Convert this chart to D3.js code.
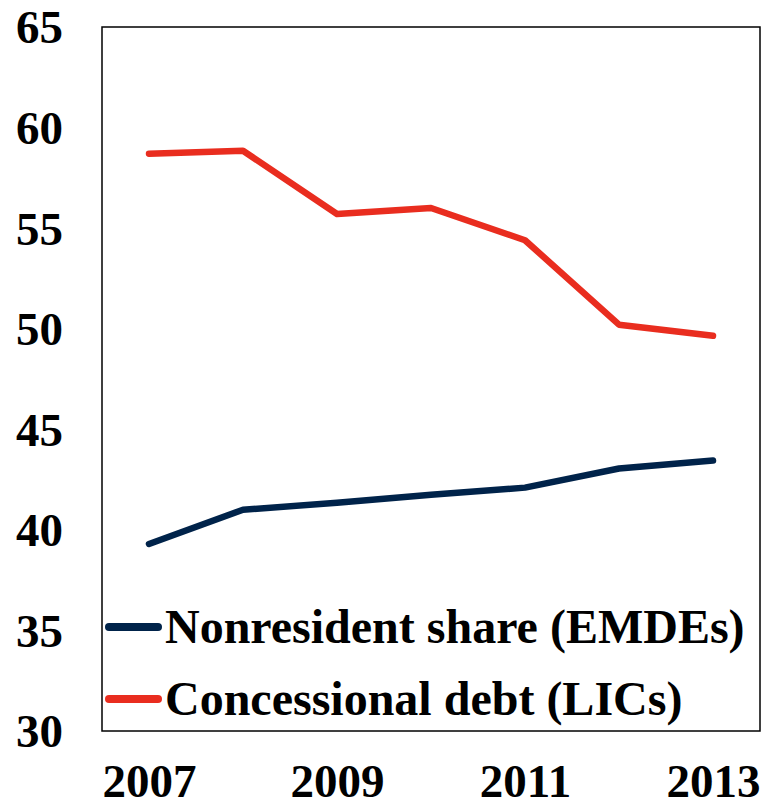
<!DOCTYPE html>
<html>
<head>
<meta charset="utf-8">
<script src="https://cdn.jsdelivr.net/npm/d3@7"></script>
<style>
  html, body { margin: 0; padding: 0; background: #fff; }
  svg { display: block; }
</style>
</head>
<body>
<div id="chart"></div>
<script>
// Daten
const years = ["2007", "2008", "2009", "2010", "2011", "2012", "2013"];
const nonresident = [39.3, 41.0, 41.35, 41.75, 42.1, 43.05, 43.45];
const concessional = [58.7, 58.85, 55.7, 56.0, 54.4, 50.2, 49.65];
const yTicks = [30, 35, 40, 45, 50, 55, 60, 65];
const xTickLabels = ["2007", "2009", "2011", "2013"];

const series = [
    { label: "Nonresident share (EMDEs)", values: nonresident, color: "#00234a" },
    { label: "Concessional debt (LICs)", values: concessional, color: "#e92d1f" },
];

const width = 763, height = 804;
const plot = { left: 102, right: 760, top: 27, bottom: 731 };
const font = "'Liberation Serif', 'Times New Roman', serif";

const svg = d3.select("#chart").append("svg")
    .attr("width", width)
    .attr("height", height);

const x = d3.scalePoint().domain(years).range([plot.left, plot.right]).padding(0.5);
const y = d3.scaleLinear().domain([30, 65]).range([plot.bottom, plot.top]);

// Rahmen
svg.append("rect")
    .attr("x", plot.left)
    .attr("y", plot.top)
    .attr("width", plot.right - plot.left)
    .attr("height", plot.bottom - plot.top)
    .attr("fill", "none")
    .attr("stroke", "#000")
    .attr("stroke-width", 1.5);

// Y-Achse
const yAxis = svg.append("g")
    .attr("transform", "translate(63,0)")
    .call(d3.axisLeft(y).tickValues(yTicks).tickSize(0).tickPadding(0));
yAxis.select(".domain").remove();
yAxis.selectAll("text")
    .attr("font-family", font)
    .attr("font-weight", "bold")
    .attr("font-size", 47)
    .attr("fill", "#000")
    .attr("dy", "0.34em");

// X-Achse
const xAxis = svg.append("g")
    .attr("transform", "translate(0,797)")
    .call(d3.axisBottom(x).tickValues(xTickLabels).tickSize(0).tickPadding(0));
xAxis.select(".domain").remove();
xAxis.selectAll("text")
    .attr("font-family", font)
    .attr("font-weight", "bold")
    .attr("font-size", 47)
    .attr("fill", "#000")
    .attr("dy", 0);

// Linien
const line = d3.line()
    .x((d, i) => x(years[i]))
    .y(d => y(d));

svg.selectAll("path.series")
    .data(series)
    .join("path")
    .attr("class", "series")
    .attr("d", d => line(d.values))
    .attr("fill", "none")
    .attr("stroke", d => d.color)
    .attr("stroke-width", 6.5)
    .attr("stroke-linecap", "round")
    .attr("stroke-linejoin", "round");

// Legende
const legend = svg.selectAll("g.legend")
    .data(series)
    .join("g")
    .attr("class", "legend")
    .attr("transform", (d, i) => `translate(0, ${627 + i * 72})`);

legend.append("line")
    .attr("x1", 109)
    .attr("x2", 158)
    .attr("stroke", d => d.color)
    .attr("stroke-width", 8)
    .attr("stroke-linecap", "round");

legend.append("text")
    .attr("x", 165)
    .attr("y", 16)
    .attr("font-family", font)
    .attr("font-weight", "bold")
    .attr("font-size", 48)
    .attr("fill", "#000")
    .text(d => d.label);
</script>
</body>
</html>
